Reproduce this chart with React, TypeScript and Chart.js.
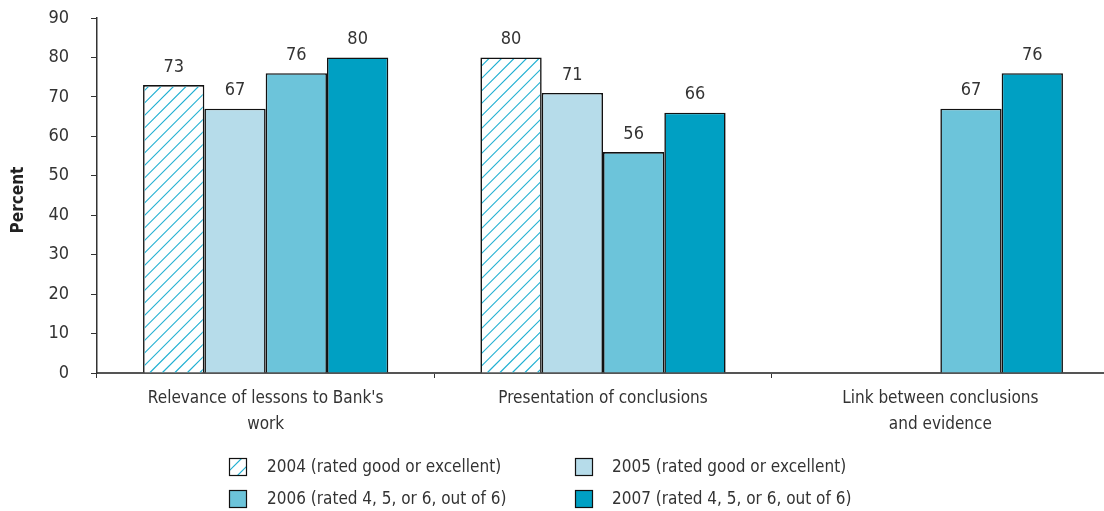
import React, { useEffect, useRef } from "react";
import { Chart, registerables } from "chart.js";
Chart.register(...registerables);

const categories = [
  ["Relevance of lessons to Bank's", "work"],
  ["Presentation of conclusions"],
  ["Link between conclusions", "and evidence"],
];
const seriesLabels = [
  "2004 (rated good or excellent)",
  "2005 (rated good or excellent)",
  "2006 (rated 4, 5, or 6, out of 6)",
  "2007 (rated 4, 5, or 6, out of 6)",
];
const values2004 = [73, 80, null];
const values2005 = [67, 71, null];
const values2006 = [76, 56, 67];
const values2007 = [80, 66, 76];
const yMax = 90;
const yStep = 10;
const yTitle = "Percent";

const FONT = "'DejaVu Sans Condensed', 'Liberation Sans Narrow', sans-serif";
const TEXT = "#333333";
const C2004 = "#ffffff";
const C2005 = "#b6dcea";
const C2006 = "#6cc4da";
const C2007 = "#00a0c3";
const HATCH = "#22b0d2";
const BORDER = "#111111";
const BW = 1.6;

function drawHatch(ctx: CanvasRenderingContext2D, l: number, t: number, r: number, b: number, spacing: number) {
  ctx.save();
  ctx.beginPath();
  ctx.rect(l, t, r - l, b - t);
  ctx.clip();
  ctx.strokeStyle = HATCH;
  ctx.lineWidth = 1.2;
  ctx.beginPath();
  const h = b - t;
  for (let x0 = l - h - spacing; x0 < r + spacing; x0 += spacing) {
    ctx.moveTo(x0, b);
    ctx.lineTo(x0 + h, t);
  }
  ctx.stroke();
  ctx.restore();
}

const hatchPlugin = {
  id: "hatchBars",
  afterDatasetsDraw(chart: any) {
    const ctx = chart.ctx;
    const meta = chart.getDatasetMeta(0);
    meta.data.forEach((el: any, j: number) => {
      const v = chart.data.datasets[0].data[j];
      if (v === null || v === undefined) return;
      const p = el.getProps(["x", "y", "base", "width"], true);
      const l = p.x - p.width / 2 + BW;
      const r = p.x + p.width / 2 - BW;
      const t = Math.min(p.y, p.base) + BW;
      const b = Math.max(p.y, p.base);
      ctx.save();
      ctx.beginPath();
      ctx.rect(l, t, r - l, b - t);
      ctx.clip();
      ctx.strokeStyle = HATCH;
      ctx.lineWidth = 1.2;
      ctx.beginPath();
      const sp = 12.5;
      const H = b - t + 20;
      const start = Math.floor((l - H) / sp) * sp;
      for (let x0 = start; x0 < r + sp; x0 += sp) {
        ctx.moveTo(x0, b);
        ctx.lineTo(x0 + H, b - H);
      }
      ctx.stroke();
      ctx.restore();
    });
  },
};

const valueLabelPlugin = {
  id: "valueLabels",
  afterDatasetsDraw(chart: any) {
    const ctx = chart.ctx;
    ctx.save();
    ctx.font = `18px ${FONT}`;
    ctx.fillStyle = TEXT;
    ctx.textAlign = "center";
    ctx.textBaseline = "bottom";
    chart.data.datasets.forEach((ds: any, i: number) => {
      const meta = chart.getDatasetMeta(i);
      meta.data.forEach((el: any, j: number) => {
        const v = ds.data[j];
        if (v === null || v === undefined) return;
        ctx.fillText(String(v), el.x, el.y - 9);
      });
    });
    ctx.restore();
  },
};

const legendPlugin = {
  id: "customLegend",
  afterDraw(chart: any) {
    const ctx = chart.ctx;
    const fills = chart.data.datasets.map((d: any) => d.backgroundColor);
    const pos = [
      { bx: 229, tx: 267, y: 467 },
      { bx: 575, tx: 612, y: 467 },
      { bx: 229, tx: 267, y: 499 },
      { bx: 575, tx: 612, y: 499 },
    ];
    ctx.save();
    ctx.font = `17px ${FONT}`;
    ctx.textBaseline = "middle";
    ctx.textAlign = "left";
    seriesLabels.forEach((lab, i) => {
      const p = pos[i];
      const size = 18;
      const top = p.y - size / 2;
      ctx.fillStyle = fills[i];
      ctx.fillRect(p.bx, top, size, size);
      if (i === 0) drawHatch(ctx, p.bx, top, p.bx + size, top + size, 13);
      ctx.strokeStyle = BORDER;
      ctx.lineWidth = 1.2;
      ctx.strokeRect(p.bx + 0.5, top + 0.5, size - 1, size - 1);
      ctx.fillStyle = TEXT;
      ctx.fillText(lab, p.tx, p.y + 1);
    });
    ctx.restore();
  },
};

const yTitlePlugin = {
  id: "yTitle",
  afterDraw(chart: any) {
    const ctx = chart.ctx;
    ctx.save();
    ctx.translate(19, 200);
    ctx.rotate(-Math.PI / 2);
    ctx.font = `bold 17px ${FONT}`;
    ctx.fillStyle = "#222222";
    ctx.textAlign = "center";
    ctx.textBaseline = "middle";
    ctx.fillText(yTitle, 0, 0);
    ctx.restore();
  },
};

export default function App() {
  const ref = useRef<HTMLCanvasElement | null>(null);
  useEffect(() => {
    if (!ref.current) return;
    const common = { borderColor: BORDER, borderWidth: BW, barPercentage: 1.0, categoryPercentage: 0.727 };
    const chart = new Chart(ref.current, {
      type: "bar",
      data: {
        labels: categories as any,
        datasets: [
          { label: seriesLabels[0], data: values2004, backgroundColor: C2004, ...common },
          { label: seriesLabels[1], data: values2005, backgroundColor: C2005, ...common },
          { label: seriesLabels[2], data: values2006, backgroundColor: C2006, ...common },
          { label: seriesLabels[3], data: values2007, backgroundColor: C2007, ...common },
        ],
      },
      options: {
        responsive: false,
        animation: false,
        devicePixelRatio: 1,
        layout: { autoPadding: false, padding: { top: 18, right: 11, bottom: 66, left: 0 } },
        plugins: {
          legend: { display: false },
          tooltip: { enabled: false },
        },
        scales: {
          x: {
            border: { color: "#555555", width: 2 },
            grid: { display: true, drawOnChartArea: false, drawTicks: true, tickLength: 5, color: "#333333", offset: true },
            ticks: { color: TEXT, font: { family: FONT, size: 17, lineHeight: 1.5 }, padding: 8, maxRotation: 0 },
          },
          y: {
            min: 0,
            max: yMax,
            afterFit(scale: any) {
              scale.width = 97;
              scale.paddingTop = 0;
              scale.paddingBottom = 0;
            },
            border: { color: "#333333", width: 1.5 },
            grid: { display: true, drawOnChartArea: false, drawTicks: true, tickLength: 6, color: "#333333" },
            ticks: { stepSize: yStep, color: TEXT, font: { family: FONT, size: 18 }, padding: 22 },
            title: { display: false },
          },
        },
      },
      plugins: [hatchPlugin, valueLabelPlugin, legendPlugin, yTitlePlugin],
    });
    return () => chart.destroy();
  }, []);
  return (
    <div style={{ position: "fixed", left: 0, top: 0, width: 1104, height: 511, overflow: "hidden", background: "#fff" }}>
      <canvas ref={ref} width={1120} height={511} style={{ display: "block", width: 1120, height: 511 }} />
    </div>
  );
}
